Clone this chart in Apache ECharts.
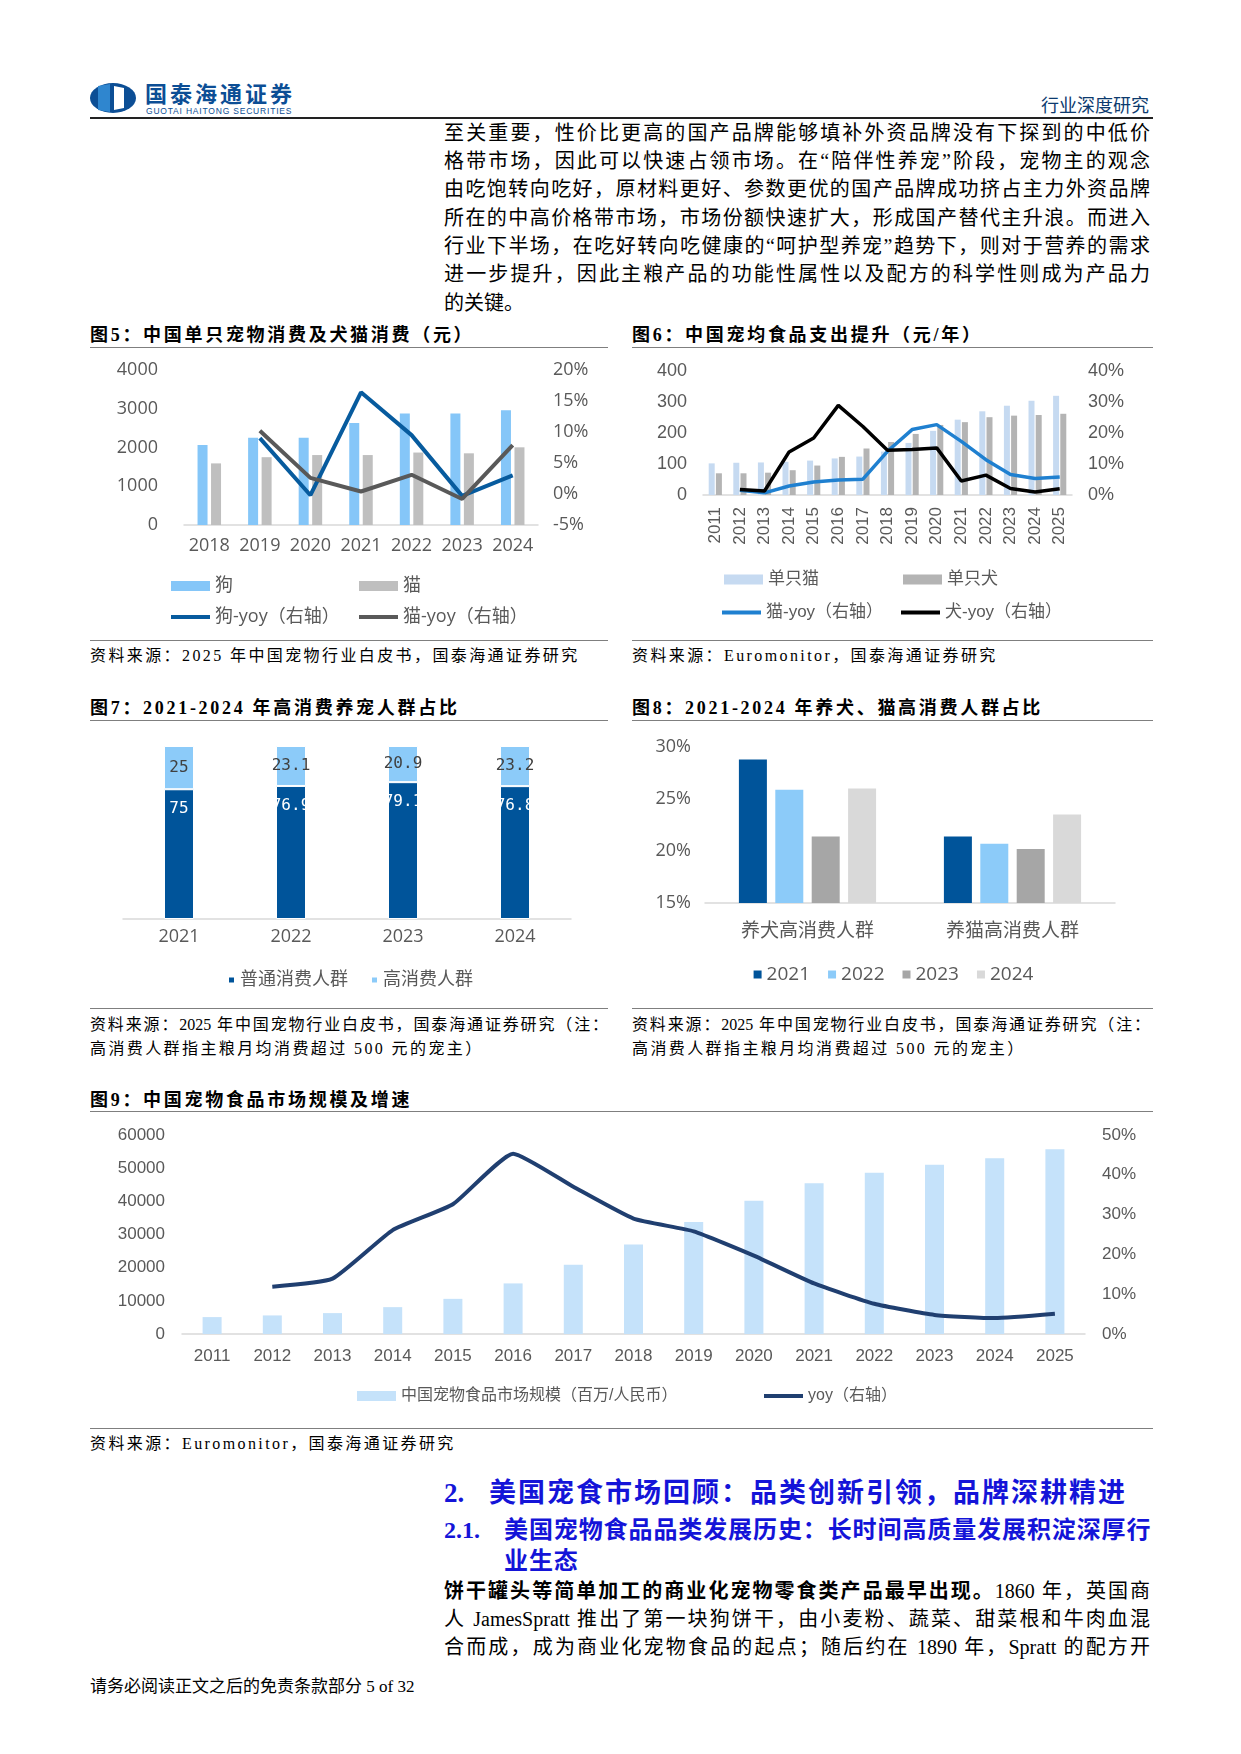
<!DOCTYPE html>
<html>
<head>
<meta charset="utf-8">
<script src="https://cdn.jsdelivr.net/npm/echarts@6/dist/echarts.min.js"></script>
<style>
  html, body { margin: 0; padding: 0; background: #fff; }
  body { width: 1241px; height: 1754px; position: relative; overflow: hidden;
         font-family: "Liberation Serif", "Noto Sans CJK SC", serif; color: #000; }
  .abs { position: absolute; }
  .line { position: absolute; left: 444px; width: 706px; font-size: 20px; line-height: 28px;
          text-align: justify; text-align-last: justify; white-space: nowrap; }
  .figtitle { position: absolute; font-size: 18px; font-weight: 700; letter-spacing: 2.7px; white-space: nowrap; }
  .rule { position: absolute; height: 0; border-top: 1.5px solid #7f7f7f; }
  .src { position: absolute; font-size: 16px; letter-spacing: 2.4px; white-space: nowrap; color: #000; }
  .srcj { position: absolute; font-size: 16px; width: 518px; white-space: nowrap;
          text-align: justify; text-align-last: justify; }
  .chart { position: absolute; }
  .h2 { position: absolute; font-size: 27px; font-weight: 700; color: #1414d8; white-space: nowrap; line-height: 1; }
  .h3 { position: absolute; font-size: 24px; font-weight: 700; color: #1414d8; white-space: nowrap; line-height: 1; }
</style>
</head>
<body>

<!-- 页眉 -->
<svg class="abs" style="left:88px;top:82px" width="50" height="32" viewBox="0 0 50 32">
  <ellipse cx="25" cy="16" rx="23" ry="15" fill="#0c4e95"/>
  <path d="M10 4 L22 2 L22 30 L10 28 Z" fill="#2f86cf"/>
  <path d="M26 4 L36 6 L36 26 L26 28 Z" fill="#fff"/>
</svg>
<div class="abs" style="left:145px;top:81px;line-height:1;font-family:'Noto Sans CJK SC';font-weight:700;font-size:22px;color:#0c4e95;letter-spacing:3px;">国泰海通证券</div>
<div class="abs" style="left:146px;top:107px;line-height:1;font-family:'Liberation Sans';font-size:8.5px;color:#0c4e95;letter-spacing:0.8px;">GUOTAI HAITONG SECURITIES</div>
<div class="abs" style="right:92px;top:91px;font-family:'Noto Sans CJK SC';font-size:18px;color:#0c3a6e;">行业深度研究</div>
<div class="abs" style="left:90px;top:117px;width:1063px;border-top:2px solid #222;"></div>

<!-- 正文 -->
<div class="line" style="top:119px">至关重要，性价比更高的国产品牌能够填补外资品牌没有下探到的中低价</div>
<div class="line" style="top:147px">格带市场，因此可以快速占领市场。在“陪伴性养宠”阶段，宠物主的观念</div>
<div class="line" style="top:175px">由吃饱转向吃好，原材料更好、参数更优的国产品牌成功挤占主力外资品牌</div>
<div class="line" style="top:204px">所在的中高价格带市场，市场份额快速扩大，形成国产替代主升浪。而进入</div>
<div class="line" style="top:232px">行业下半场，在吃好转向吃健康的“呵护型养宠”趋势下，则对于营养的需求</div>
<div class="line" style="top:260px">进一步提升，因此主粮产品的功能性属性以及配方的科学性则成为产品力</div>
<div class="line" style="top:289px;text-align-last:left">的关键。</div>

<!-- 图5 / 图6 -->
<div class="figtitle" style="left:90px;top:320px">图5：中国单只宠物消费及犬猫消费（元）</div>
<div class="rule" style="left:90px;top:347px;width:518px"></div>
<div id="fig5" class="chart" style="left:90px;top:350px;width:520px;height:288px"></div>
<div class="rule" style="left:90px;top:640px;width:518px"></div>
<div class="src" style="left:90px;top:642px">资料来源：2025 年中国宠物行业白皮书，国泰海通证券研究</div>

<div class="figtitle" style="left:632px;top:320px">图6：中国宠均食品支出提升（元/年）</div>
<div class="rule" style="left:632px;top:347px;width:521px"></div>
<div id="fig6" class="chart" style="left:632px;top:350px;width:523px;height:288px"></div>
<div class="rule" style="left:632px;top:640px;width:521px"></div>
<div class="src" style="left:632px;top:642px">资料来源：Euromonitor，国泰海通证券研究</div>

<!-- 图7 / 图8 -->
<div class="figtitle" style="left:90px;top:693px">图7：2021-2024 年高消费养宠人群占比</div>
<div class="rule" style="left:90px;top:720px;width:518px"></div>
<div id="fig7" class="chart" style="left:90px;top:722px;width:520px;height:283px"></div>
<div class="rule" style="left:90px;top:1008px;width:518px"></div>
<div class="srcj" style="left:90px;top:1011px">资料来源：2025 年中国宠物行业白皮书，国泰海通证券研究（注：</div>
<div class="src" style="left:90px;top:1035px">高消费人群指主粮月均消费超过 500 元的宠主）</div>

<div class="figtitle" style="left:632px;top:693px">图8：2021-2024 年养犬、猫高消费人群占比</div>
<div class="rule" style="left:632px;top:720px;width:521px"></div>
<div id="fig8" class="chart" style="left:632px;top:722px;width:523px;height:283px"></div>
<div class="rule" style="left:632px;top:1008px;width:521px"></div>
<div class="srcj" style="left:632px;top:1011px">资料来源：2025 年中国宠物行业白皮书，国泰海通证券研究（注：</div>
<div class="src" style="left:632px;top:1035px">高消费人群指主粮月均消费超过 500 元的宠主）</div>

<!-- 图9 -->
<div class="figtitle" style="left:90px;top:1085px">图9：中国宠物食品市场规模及增速</div>
<div class="rule" style="left:90px;top:1111px;width:1063px"></div>
<div id="fig9" class="chart" style="left:88px;top:1113px;width:1067px;height:313px"></div>
<div class="rule" style="left:90px;top:1428px;width:1063px"></div>
<div class="src" style="left:90px;top:1430px">资料来源：Euromonitor，国泰海通证券研究</div>

<!-- 章节 -->
<div class="h2" style="left:444px;top:1480px">2.</div>
<div class="h2" style="left:489px;top:1480px;letter-spacing:2px">美国宠食市场回顾：品类创新引领，品牌深耕精进</div>
<div class="h3" style="left:444px;top:1518px">2.1.</div>
<div class="h3" style="left:504px;top:1518px;letter-spacing:0.9px">美国宠物食品品类发展历史：长时间高质量发展积淀深厚行</div>
<div class="h3" style="left:504px;top:1549px;letter-spacing:0.9px">业生态</div>
<div class="line" style="top:1577px"><b>饼干罐头等简单加工的商业化宠物零食类产品最早出现。</b>1860 年，英国商</div>
<div class="line" style="top:1605px">人 JamesSpratt 推出了第一块狗饼干，由小麦粉、蔬菜、甜菜根和牛肉血混</div>
<div class="line" style="top:1633px">合而成，成为商业化宠物食品的起点；随后约在 1890 年，Spratt 的配方开</div>

<div class="abs" style="left:90px;top:1672px;font-size:17px;">请务必阅读正文之后的免责条款部分 5 of 32</div>

<script>
// ---------- 数据 ----------
// 图5
const fig5Years = ['2018', '2019', '2020', '2021', '2022', '2023', '2024'];
const fig5Dog = [2065, 2250, 2250, 2630, 2880, 2875, 2960];
const fig5Cat = [1590, 1750, 1805, 1805, 1870, 1850, 2005];
const fig5DogYoy = [null, 9.0, -0.2, 16.4, 9.5, -0.3, 3.0];
const fig5CatYoy = [null, 10.2, 2.6, 0.4, 3.1, -0.8, 7.9];

// 图6
const fig6Years = ['2011', '2012', '2013', '2014', '2015', '2016', '2017', '2018',
  '2019', '2020', '2021', '2022', '2023', '2024', '2025'];
const fig6CatSpend = [102, 104, 105, 107, 111, 118, 124, 140, 168, 207, 243, 270, 288, 304, 320];
const fig6DogSpend = [70, 70, 72, 80, 95, 123, 150, 171, 197, 226, 235, 251, 256, 258, 262];
const fig6CatYoy = [null, 1.5, 0.7, 2.9, 4.2, 4.8, 5.1, 14.1, 21.1, 22.7, 17.3, 11.4, 6.6, 5.3, 5.8];
const fig6DogYoy = [null, 1.8, 1.3, 13.9, 18.4, 28.9, 22.1, 14.4, 14.7, 15.2, 4.5, 6.4, 2.1, 1.0, 2.0];

// 图7
const fig7Years = ['2021', '2022', '2023', '2024'];
const fig7Normal = [75, 76.9, 79.1, 76.8];
const fig7High = [25, 23.1, 20.9, 23.2];

// 图8
const fig8Groups = ['养犬高消费人群', '养猫高消费人群'];
const fig8Y2021 = [28.8, 21.4];
const fig8Y2022 = [25.9, 20.7];
const fig8Y2023 = [21.4, 20.2];
const fig8Y2024 = [26.0, 23.5];

// 图9
const fig9Years = ['2011', '2012', '2013', '2014', '2015', '2016', '2017', '2018',
  '2019', '2020', '2021', '2022', '2023', '2024', '2025'];
const fig9Market = [5100, 5600, 6300, 8100, 10600, 15250, 20850, 26950,
  33750, 40150, 45450, 48600, 51050, 52980, 55730];
const fig9Yoy = [null, 11.9, 13.9, 26.1, 32.6, 45.3, 37.0, 29.0,
  25.8, 19.7, 12.7, 7.6, 4.8, 4.0, 5.1];

// ---------- 公共样式 ----------
const FONT = '"Open Sans", "Noto Sans CJK SC", sans-serif';
const labelGray = '#595959';
const axisLineGray = '#d9d9d9';
const plain = (v) => String(v);

const catAxis = (data, extra) => Object.assign({
  type: 'category',
  data: data,
  axisTick: { show: false },
  axisLine: { lineStyle: { color: axisLineGray, width: 1.5 } },
  axisLabel: { color: labelGray, fontSize: 18, fontFamily: FONT }
}, extra || {});

const valAxis = (extra) => Object.assign({
  type: 'value',
  splitLine: { show: false },
  axisLine: { show: false },
  axisTick: { show: false },
  axisLabel: { color: labelGray, fontSize: 18, fontFamily: FONT }
}, extra || {});

// 柱子图例用 10px 高的方块，折线图例用 4px 高的粗线
const oneLegend = (name, left, top, isLine, textStyle) => ({
  data: [{ name: name, icon: 'rect' }],
  left: left,
  top: top,
  itemWidth: 39,
  itemHeight: isLine ? 4 : 10,
  itemGap: 0,
  selectedMode: false,
  textStyle: Object.assign({ color: labelGray, fontSize: 18, fontFamily: FONT }, textStyle || {})
});

// ---------- 图5 ----------
const fig5 = echarts.init(document.getElementById('fig5'));
fig5.setOption({
  animation: false,
  grid: { left: 94, right: 72, top: 20, bottom: 113 },
  legend: [
    oneLegend('狗', 76, 222, false),
    oneLegend('猫', 264, 222, false),
    oneLegend('狗-yoy（右轴）', 76, 253, true),
    oneLegend('猫-yoy（右轴）', 264, 253, true)
  ],
  xAxis: catAxis(fig5Years, { axisLabel: { color: labelGray, fontSize: 18, fontFamily: FONT, margin: 12, interval: 0 } }),
  yAxis: [
    valAxis({ min: 0, max: 4000, interval: 1000,
      axisLabel: { color: labelGray, fontSize: 18, fontFamily: FONT, margin: 26, formatter: plain } }),
    valAxis({ min: -5, max: 20, interval: 5, position: 'right',
      axisLabel: { color: labelGray, fontSize: 18, fontFamily: FONT, margin: 15, formatter: '{value}%' } })
  ],
  series: [
    { name: '狗', type: 'bar', data: fig5Dog, barWidth: 10, barGap: '35%', itemStyle: { color: '#85c6f8' } },
    { name: '猫', type: 'bar', data: fig5Cat, barWidth: 10, itemStyle: { color: '#bfbfbf' } },
    { name: '狗-yoy（右轴）', type: 'line', yAxisIndex: 1, data: fig5DogYoy, symbol: 'none',
      lineStyle: { color: '#075b9e', width: 4 }, itemStyle: { color: '#075b9e' } },
    { name: '猫-yoy（右轴）', type: 'line', yAxisIndex: 1, data: fig5CatYoy, symbol: 'none',
      lineStyle: { color: '#595959', width: 4 }, itemStyle: { color: '#595959' } }
  ]
});

// ---------- 图6 ----------
const fig6 = echarts.init(document.getElementById('fig6'));
const FONT6 = '"Liberation Sans", "Noto Sans CJK SC", sans-serif';
const legend6Text = { fontSize: 17, fontFamily: FONT6 };
fig6.setOption({
  animation: false,
  grid: { left: 71, right: 83, top: 21, bottom: 143 },
  legend: [
    oneLegend('单只猫', 87, 216, false, legend6Text),
    oneLegend('单只犬', 266, 216, false, legend6Text),
    oneLegend('猫-yoy（右轴）', 85, 249, true, legend6Text),
    oneLegend('犬-yoy（右轴）', 264, 249, true, legend6Text)
  ],
  xAxis: catAxis(fig6Years, {
    axisLabel: { color: labelGray, fontSize: 17, fontFamily: FONT6, rotate: 90, margin: 12, interval: 0 }
  }),
  yAxis: [
    valAxis({ min: 0, max: 400, interval: 100, axisLabel: { color: labelGray, fontSize: 18, fontFamily: FONT6, margin: 16 } }),
    valAxis({ min: 0, max: 40, interval: 10, position: 'right',
      axisLabel: { color: labelGray, fontSize: 18, fontFamily: FONT6, margin: 16, formatter: '{value}%' } })
  ],
  series: [
    { name: '单只猫', type: 'bar', data: fig6CatSpend, barWidth: 6, barGap: '20%', itemStyle: { color: '#c6daf1' } },
    { name: '单只犬', type: 'bar', data: fig6DogSpend, barWidth: 6, itemStyle: { color: '#b4b4b4' } },
    { name: '猫-yoy（右轴）', type: 'line', yAxisIndex: 1, data: fig6CatYoy, symbol: 'none',
      lineStyle: { color: '#1f80d0', width: 3.5 }, itemStyle: { color: '#1f80d0' } },
    { name: '犬-yoy（右轴）', type: 'line', yAxisIndex: 1, data: fig6DogYoy, symbol: 'none',
      lineStyle: { color: '#000000', width: 3.5 }, itemStyle: { color: '#000000' } }
  ]
});

// ---------- 图7 ----------
const fig7 = echarts.init(document.getElementById('fig7'));
const MONO = '"DejaVu Sans Mono", monospace';
fig7.setOption({
  animation: false,
  grid: { left: 33, right: 39, top: 24, bottom: 86 },
  legend: {
    data: ['普通消费人群', '高消费人群'],
    bottom: 11,
    icon: 'rect',
    itemWidth: 7,
    itemHeight: 7,
    itemGap: 22,
    selectedMode: false,
    textStyle: { color: labelGray, fontSize: 18, fontFamily: FONT }
  },
  xAxis: catAxis(fig7Years, { axisLabel: { color: labelGray, fontSize: 18, fontFamily: FONT, margin: 9 } }),
  yAxis: valAxis({ min: 0, max: 100, show: false }),
  series: [
    { name: '普通消费人群', type: 'bar', stack: 'all', data: fig7Normal, barWidth: 30,
      itemStyle: { color: '#00549a', borderColor: '#fff', borderWidth: 1 },
      label: { show: true, position: 'insideTop', distance: 12, color: '#fff', fontSize: 16, fontFamily: MONO } },
    { name: '高消费人群', type: 'bar', stack: 'all', data: fig7High, barWidth: 30,
      itemStyle: { color: '#8ccbf9', borderColor: '#fff', borderWidth: 1 },
      label: { show: true, position: 'inside', color: '#404040', fontSize: 16, fontFamily: MONO } }
  ]
});

// ---------- 图8 ----------
const fig8 = echarts.init(document.getElementById('fig8'));
const fig8Bar = (name, data, color) => ({
  name: name, type: 'bar', data: data, barWidth: 28, barGap: '30%', itemStyle: { color: color }
});
fig8.setOption({
  animation: false,
  grid: { left: 73, right: 40, top: 25, bottom: 102 },
  legend: {
    data: ['2021', '2022', '2023', '2024'],
    bottom: 16,
    icon: 'rect',
    itemWidth: 8,
    itemHeight: 8,
    itemGap: 18,
    selectedMode: false,
    textStyle: { color: labelGray, fontSize: 19, fontFamily: FONT }
  },
  xAxis: catAxis(fig8Groups, { axisLabel: { color: labelGray, fontSize: 19, fontFamily: FONT, margin: 19 } }),
  yAxis: valAxis({ min: 15, max: 30, interval: 5,
    axisLabel: { color: labelGray, fontSize: 18, fontFamily: FONT, margin: 14, formatter: '{value}%' } }),
  series: [
    fig8Bar('2021', fig8Y2021, '#00549a'),
    fig8Bar('2022', fig8Y2022, '#8ccbf9'),
    fig8Bar('2023', fig8Y2023, '#a6a6a6'),
    fig8Bar('2024', fig8Y2024, '#d9d9d9')
  ]
});

// ---------- 图9 ----------
const fig9 = echarts.init(document.getElementById('fig9'));
const FONT9 = '"Liberation Sans", "Noto Sans CJK SC", sans-serif';
const legend9Text = { fontSize: 16, fontFamily: FONT9 };
fig9.setOption({
  animation: false,
  grid: { left: 94, right: 70, top: 22, bottom: 92 },
  legend: [
    oneLegend('中国宠物食品市场规模（百万/人民币）', 264, 270, false, legend9Text),
    oneLegend('yoy（右轴）', 671, 270, true, legend9Text)
  ],
  xAxis: catAxis(fig9Years, { axisLabel: { color: labelGray, fontSize: 17, fontFamily: FONT9, margin: 14 } }),
  yAxis: [
    valAxis({ min: 0, max: 60000, interval: 10000,
      axisLabel: { color: labelGray, fontSize: 17, fontFamily: FONT9, margin: 17, formatter: plain } }),
    valAxis({ min: 0, max: 50, interval: 10, position: 'right',
      axisLabel: { color: labelGray, fontSize: 17, fontFamily: FONT9, margin: 17, formatter: '{value}%' } })
  ],
  series: [
    { name: '中国宠物食品市场规模（百万/人民币）', type: 'bar', data: fig9Market, barWidth: 19,
      itemStyle: { color: '#c5e2fa' } },
    { name: 'yoy（右轴）', type: 'line', yAxisIndex: 1, data: fig9Yoy, symbol: 'none', smooth: 0.15,
      lineStyle: { color: '#203f70', width: 4 }, itemStyle: { color: '#203f70' } }
  ]
});
</script>
</body>
</html>
